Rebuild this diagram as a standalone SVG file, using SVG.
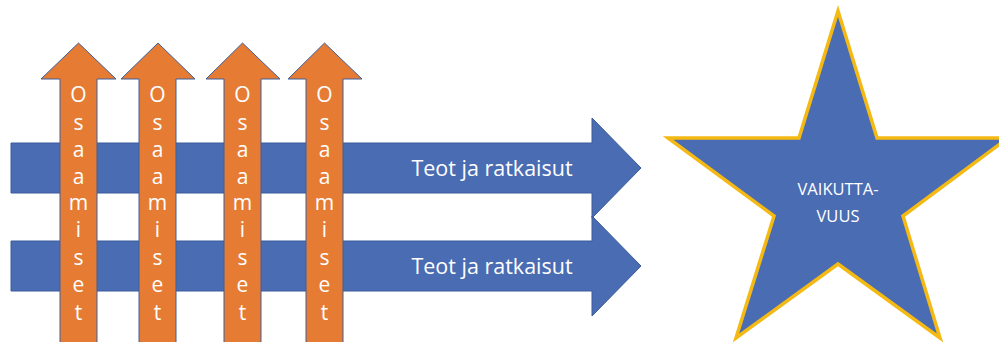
<svg xmlns="http://www.w3.org/2000/svg" width="999" height="342" viewBox="0 0 999 342">
<style>
.blue{fill:#4a6cb3;stroke:#3b5a9a;stroke-width:1}
.orange{fill:#e67c34;stroke:#3f5f9a;stroke-width:1}
.t{font-family:"Open Sans","Liberation Sans",sans-serif;fill:#ffffff}
.lt{font-size:21px;text-anchor:middle}
.bt{font-size:21.5px}
.st{font-size:16.5px;text-anchor:middle}
</style>
<rect width="999" height="342" fill="#ffffff"/>
<g id="connectors">
<g id="arrow-top">
<path class="blue" d="M11,143 H592 V118 L641,168 L592,218 V193 H11 Z"/>
<text class="t bt" x="492" y="176" text-anchor="middle">Teot ja ratkaisut</text>
</g>
<g id="arrow-bottom">
<path class="blue" d="M11,241 H592 V216 L641,266 L592,316 V291 H11 Z"/>
<text class="t bt" x="492" y="274" text-anchor="middle">Teot ja ratkaisut</text>
</g>
<g id="up1">
<path class="orange" d="M60,345 V79 H41 L78.5,43 L116,79 H97 V345 Z"/>
<text class="t lt" x="78.5"><tspan x="78.5" y="102">O</tspan><tspan x="78.5" y="130">s</tspan><tspan x="78.5" y="157">a</tspan><tspan x="78.5" y="184">a</tspan><tspan x="78.5" y="210">m</tspan><tspan x="78.5" y="237">i</tspan><tspan x="78.5" y="265">s</tspan><tspan x="78.5" y="292">e</tspan><tspan x="78.5" y="320">t</tspan></text>
</g>
<g id="up2">
<path class="orange" d="M139,345 V79 H121 L158,43 L195,79 H176 V345 Z"/>
<text class="t lt" x="157.5"><tspan x="157.5" y="102">O</tspan><tspan x="157.5" y="130">s</tspan><tspan x="157.5" y="157">a</tspan><tspan x="157.5" y="184">a</tspan><tspan x="157.5" y="210">m</tspan><tspan x="157.5" y="237">i</tspan><tspan x="157.5" y="265">s</tspan><tspan x="157.5" y="292">e</tspan><tspan x="157.5" y="320">t</tspan></text>
</g>
<g id="up3">
<path class="orange" d="M224,345 V79 H206 L242.5,43 L280,79 H261 V345 Z"/>
<text class="t lt" x="242.5"><tspan x="242.5" y="102">O</tspan><tspan x="242.5" y="130">s</tspan><tspan x="242.5" y="157">a</tspan><tspan x="242.5" y="184">a</tspan><tspan x="242.5" y="210">m</tspan><tspan x="242.5" y="237">i</tspan><tspan x="242.5" y="265">s</tspan><tspan x="242.5" y="292">e</tspan><tspan x="242.5" y="320">t</tspan></text>
</g>
<g id="up4">
<path class="orange" d="M306,345 V79 H288 L324.5,43 L362,79 H343 V345 Z"/>
<text class="t lt" x="324.5"><tspan x="324.5" y="102">O</tspan><tspan x="324.5" y="130">s</tspan><tspan x="324.5" y="157">a</tspan><tspan x="324.5" y="184">a</tspan><tspan x="324.5" y="210">m</tspan><tspan x="324.5" y="237">i</tspan><tspan x="324.5" y="265">s</tspan><tspan x="324.5" y="292">e</tspan><tspan x="324.5" y="320">t</tspan></text>
</g>
</g>
<g id="star">
<path d="M838,11 L877,138 L1008,138 L903,216 L940,338 L838,264 L736,338 L774,216 L668,138 L799,138 Z" fill="#4a6cb3" stroke="#f5b914" stroke-width="3.5" stroke-linejoin="miter"/>
<text class="t st" x="838" y="195">VAIKUTTA-</text>
<text class="t st" x="838" y="222">VUUS</text>
</g>
</svg>
